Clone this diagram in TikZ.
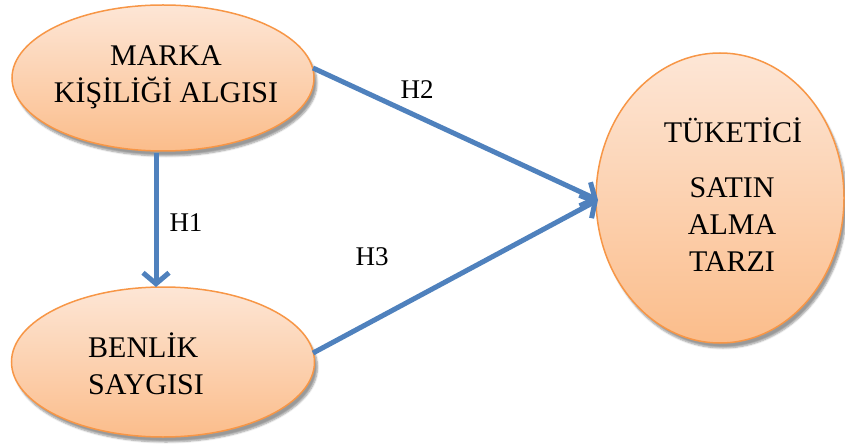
\documentclass[tikz,border=0pt]{standalone}
\usepackage{fontspec}
\setmainfont{Liberation Serif}
\usetikzlibrary{shapes.geometric,arrows.meta,shadows.blur}
\definecolor{obord}{HTML}{F79646}
\definecolor{otop}{HTML}{FDE6D6}
\definecolor{obot}{HTML}{FBBD8B}
\definecolor{ablue}{HTML}{4F81BD}
\tikzset{
  bubble/.style={ellipse, draw=obord, line width=1.5pt, top color=otop, bottom color=obot,
    inner sep=0pt, blur shadow={shadow xshift=3pt, shadow yshift=-5pt, shadow blur steps=6, shadow opacity=40}},
  txt/.style={font=\fontsize{30}{37}\selectfont, inner sep=0pt},
  lbl/.style={font=\fontsize{27}{30}\selectfont, inner sep=0pt},
  link/.style={draw=ablue, line width=5pt, -{Straight Barb[length=11pt,width=26pt,line width=5pt]}}
}
\begin{document}
\begin{tikzpicture}[x=1pt,y=-1pt]
\useasboundingbox (0,0) rectangle (845,446);
\node[bubble, minimum width=302pt, minimum height=146pt] (mk) at (163,78) {};
\node[bubble, minimum width=303pt, minimum height=150pt] (bs) at (163,362) {};
\node[bubble, minimum width=248pt, minimum height=290pt] (ts) at (720,198) {};
% texts
\node[txt, align=center] (t1) at (166,77) {MARKA\\KİŞİLİĞİ ALGISI};
\node[txt, align=left, anchor=west] (t2) at (88,364) {BENLİK\\SAYGISI};
\node[txt] (t3) at (733,130) {TÜKETİCİ};
\node[txt, align=center] (t4) at (732,225) {SATIN\\ALMA\\TARZI};
% connectors
\coordinate (h1s) at (156,153);
\coordinate (h2s) at (313,68);
\coordinate (h3s) at (313,353);
\coordinate (tip) at (598,200);
\draw[link] (h1s) -- (156,287);
\draw[link] (h2s) -- (tip);
\draw[link] (h3s) -- (tip);
\node[lbl] (l1) at (186,223) {H1};
\node[lbl] (l2) at (417,90) {H2};
\node[lbl] (l3) at (372,257) {H3};
\end{tikzpicture}
\end{document}
